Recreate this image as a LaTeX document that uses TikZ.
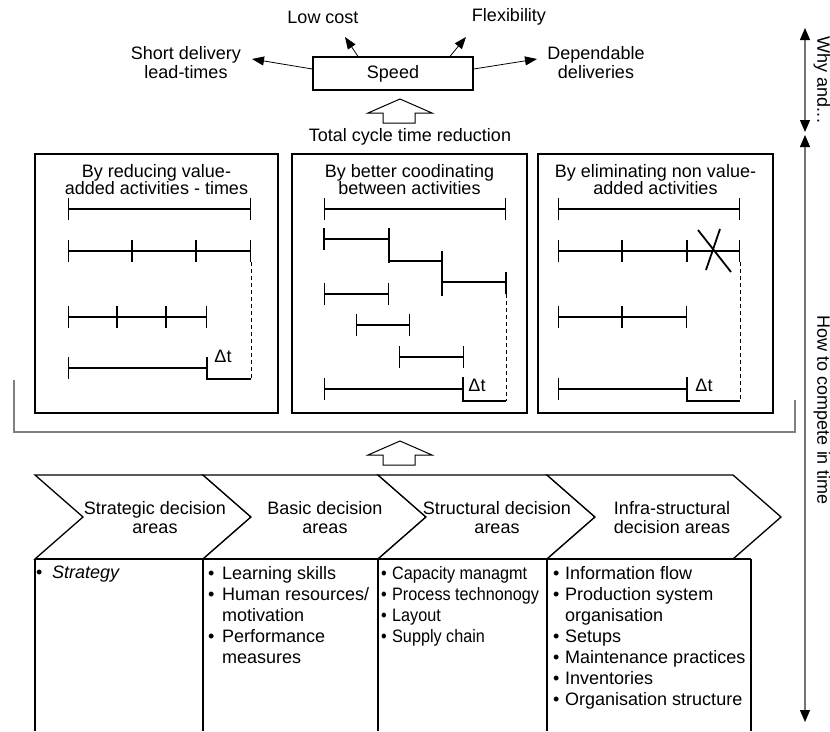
\documentclass[tikz,border=0pt]{standalone}
\usepackage{fontspec}
\setmainfont{Liberation Sans}
\newfontfamily\narrowfont{Liberation Sans}[FakeStretch=0.9]
\usetikzlibrary{arrows.meta}

\newcommand{\itm}[1]{\makebox[#1][l]{•}}

\begin{document}
\begin{tikzpicture}[x=1pt,y=-1pt,font=\fontsize{18}{19}\selectfont]
	% styles
	\tikzstyle{lbl} += [inner sep=0pt,align=center]
	\tikzstyle{frame} += [draw,line width=1.3pt]
	\tikzstyle{arr} += [->,>={Triangle[length=12pt,width=9pt]},line width=0.8pt]
	\tikzstyle{bar} += [line width=1.2pt]
	\tikzstyle{timebar} += [bar,{Bar[width=22pt]}-{Bar[width=22pt]}]
	\tikzstyle{startbar} += [bar,{Bar[width=22pt]}-]
	\tikzstyle{gap} += [line width=1pt,dash pattern=on 4pt off 3pt]
	\tikzstyle{boxtitle} += [lbl,font=\fontsize{18}{17}\selectfont]
	\tikzstyle{itemlist} += [inner sep=0pt,align=left,anchor=north west,font=\fontsize{18}{21}\selectfont]
	\tikzstyle{sidearrow} += [draw=black!55,line width=1.2pt,{Triangle[length=12pt,width=10pt,color=black]}-{Triangle[length=12pt,width=10pt,color=black]}]

	% bounding box
	\useasboundingbox (0,0) rectangle (830,731);

	% speed and what it gives
	\node[frame,minimum width=160pt,minimum height=33pt] (speed) at (393,73.5) {Speed};
	\node[lbl] (lowcost) at (323,17) {Low cost};
	\node[lbl] (flex) at (509,17) {Flexibility};
	\node[lbl] (shortlt) at (186,62.5) {Short delivery\\lead-times};
	\node[lbl] (depend) at (596,62.5) {Dependable\\deliveries};
	\coordinate (lc tip) at (345,37);
	\coordinate (fx tip) at (466,37);
	\coordinate (sd tip) at (252,59);
	\coordinate (dd tip) at (537,59);
	\draw[arr] ([xshift=-35pt]speed.north) -- (lc tip);
	\draw[arr] ([xshift=57pt]speed.north) -- (fx tip);
	\draw[arr] ([yshift=4.5pt]speed.west) -- (sd tip);
	\draw[arr] ([yshift=4.5pt]speed.east) -- (dd tip);
	\node[lbl] (cycle) at (410,137) {Total cycle time reduction};

	% hollow arrows
	\foreach \yb in {123,465}
	{
		\draw[frame,line width=1pt,fill=white] (383,\yb) -- (383,\yb-10) -- (368,\yb-10) -- (400,\yb-24)
		-- (432,\yb-10) -- (415,\yb-10) -- (415,\yb) -- cycle;
	}

	% box 1
	\draw[frame] (35,154) rectangle (278,413);
	\node[boxtitle] (title1) at (156.5,180) {By reducing value-\\added activities - times};
	\draw[timebar] (68,209) -- (251,209);
	\draw[timebar] (68,251) -- (251,251);
	\foreach \x in {132,196}
		\draw[bar] (\x,240) -- (\x,262);
	\draw[timebar] (68,317) -- (207,317);
	\foreach \x in {117,166}
		\draw[bar] (\x,306) -- (\x,328);
	\draw[startbar] (68,368) -- (207,368);
	\draw[bar] (207,357) -- (207,379) -- (251,379);
	\draw[gap] (251,262) -- (251,379);
	\node[lbl] (dt1) at (223,356) {Δt};

	% box 2
	\draw[frame] (292,154) rectangle (527,413);
	\node[boxtitle] (title2) at (409.5,180) {By better coodinating\\between activities};
	\draw[timebar] (324,209) -- (506,209);
	\draw[bar] (324,228) -- (324,250);
	\draw[bar] (324,239) -- (389,239);
	\draw[bar] (389,228) -- (389,263);
	\draw[bar] (389,261) -- (442,261);
	\draw[bar] (442,251) -- (442,296);
	\draw[bar] (442,282) -- (506,282);
	\draw[bar] (506,272) -- (506,294);
	\draw[timebar] (324,294) -- (389,294);
	\draw[timebar] (356,325) -- (410,325);
	\draw[timebar] (399,357) -- (464,357);
	\draw[startbar] (324,389) -- (463,389);
	\draw[bar] (463,377) -- (463,401) -- (506,401);
	\draw[gap] (506,294) -- (506,401);
	\node[lbl] (dt2) at (477,385) {Δt};

	% box 3
	\draw[frame] (538,154) rectangle (773,413);
	\node[boxtitle] (title3) at (655.5,180) {By eliminating non value-\\added activities};
	\draw[timebar] (558,209) -- (740,209);
	\draw[timebar] (558,251) -- (740,251);
	\foreach \x in {622,687}
		\draw[bar] (\x,240) -- (\x,262);
	\draw[line width=1.8pt] (698,230) -- (731,272);
	\draw[line width=1.8pt] (720,229) -- (706,270);
	\draw[timebar] (558,317) -- (687,317);
	\draw[bar] (622,306) -- (622,328);
	\draw[startbar] (558,389) -- (687,389);
	\draw[bar] (687,377) -- (687,401) -- (740,401);
	\draw[gap] (740,262) -- (740,401);
	\node[lbl] (dt3) at (704,385) {Δt};

	% bracket round the boxes
	\draw[draw=black!50,line width=1.2pt] (14,380) -- (14,432) -- (795,432) -- (795,400);

	% decision areas
	\foreach \a/\b in {35/203,203/378,378/547,547/733}
	{
		\draw[frame,fill=white] (\a,475) -- (\b,475) -- (\b+48,517) -- (\b,559) -- (\a,559) -- (\a+48,517) -- cycle;
	}
	\node[lbl] (strat) at (155,517.5) {Strategic decision\\areas};
	\node[lbl] (basic) at (325,517.5) {Basic decision\\areas};
	\node[lbl] (struct) at (497,517.5) {Structural decision\\areas};
	\node[lbl] (infra) at (672,517.5) {Infra-structural\\decision areas};

	% table below
	\draw[frame] (35,559) -- (751,559);
	\foreach \x in {35,203,378,547,751}
		\draw[frame] (\x,559) -- (\x,731);
	\node[itemlist] (list1) at (36,566) {\itm{16pt}\textit{Strategy}};
	\node[itemlist] (list2) at (208,566) {\itm{14pt}Learning skills\\
		\itm{14pt}Human resources/\\
		\hspace*{14pt}motivation\\
		\itm{14pt}Performance\\
		\hspace*{14pt}measures};
	\node[itemlist,font=\fontsize{18}{21}\narrowfont] (list3) at (381,566) {\itm{11pt}Capacity managmt\\
		\itm{11pt}Process technonogy\\
		\itm{11pt}Layout\\
		\itm{11pt}Supply chain};
	\node[itemlist] (list4) at (553,566) {\itm{12pt}Information flow\\
		\itm{12pt}Production system\\
		\hspace*{12pt}organisation\\
		\itm{12pt}Setups\\
		\itm{12pt}Maintenance practices\\
		\itm{12pt}Inventories\\
		\itm{12pt}Organisation structure};

	% why and how
	\coordinate (why top) at (805,28);
	\coordinate (why bot) at (805,132);
	\coordinate (how top) at (805,135);
	\coordinate (how bot) at (805,722);
	\draw[sidearrow] (why top) -- (why bot);
	\draw[sidearrow] (how top) -- (how bot);
	\node[lbl,rotate=-90] (why) at (822,80) {Why and...};
	\node[lbl,rotate=-90] (how) at (822,410) {How to compete in time};
\end{tikzpicture}
\end{document}
